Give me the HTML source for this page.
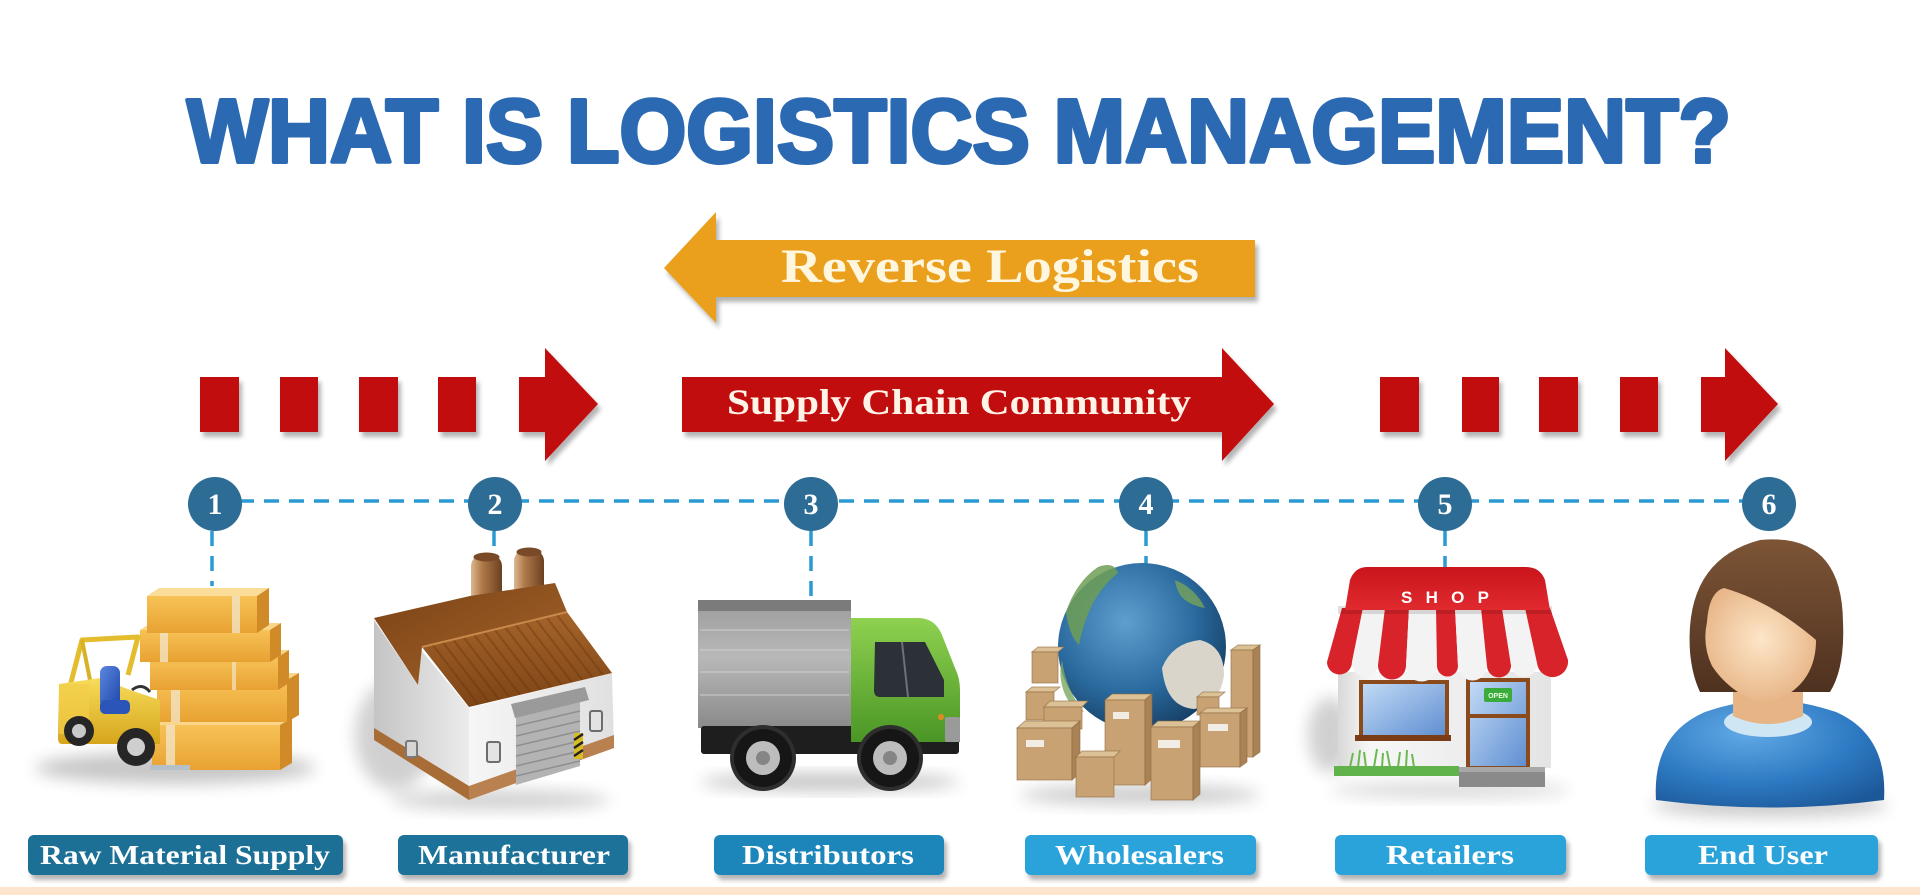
<!DOCTYPE html>
<html><head><meta charset="utf-8">
<style>
html,body{margin:0;padding:0;background:#fff;}
svg{display:block;}
</style></head>
<body>
<svg width="1920" height="895" viewBox="0 0 1920 895" xmlns="http://www.w3.org/2000/svg">
<defs>
 <filter id="ds" x="-5%" y="-20%" width="115%" height="170%">
   <feGaussianBlur in="SourceAlpha" stdDeviation="2.5"/>
   <feOffset dx="3" dy="5"/>
   <feComponentTransfer><feFuncA type="linear" slope="0.3"/></feComponentTransfer>
   <feMerge><feMergeNode/><feMergeNode in="SourceGraphic"/></feMerge>
 </filter>
 <filter id="bl" x="-50%" y="-50%" width="200%" height="200%"><feGaussianBlur stdDeviation="8"/></filter>
 <linearGradient id="gBoxF" x1="0" y1="0" x2="0" y2="1"><stop offset="0" stop-color="#f7c257"/><stop offset="1" stop-color="#e8a232"/></linearGradient>
 <linearGradient id="gYel" x1="0" y1="0" x2="0" y2="1"><stop offset="0" stop-color="#f7dc5a"/><stop offset="1" stop-color="#d6a51c"/></linearGradient>
 <linearGradient id="gSeat" x1="0" y1="0" x2="1" y2="1"><stop offset="0" stop-color="#5a86e0"/><stop offset="1" stop-color="#1e47a8"/></linearGradient>
 <linearGradient id="gChim" x1="0" y1="0" x2="1" y2="0"><stop offset="0" stop-color="#dcb892"/><stop offset="0.35" stop-color="#b07a4a"/><stop offset="1" stop-color="#6b4020"/></linearGradient>
 <linearGradient id="gRoofB" x1="0" y1="0" x2="1" y2="1"><stop offset="0" stop-color="#7a4215"/><stop offset="1" stop-color="#a5652b"/></linearGradient>
 <linearGradient id="gRoofF" x1="0" y1="0" x2="0" y2="1"><stop offset="0" stop-color="#a6642a"/><stop offset="1" stop-color="#7d4416"/></linearGradient>
 <linearGradient id="gWallL" x1="0" y1="0" x2="1" y2="0"><stop offset="0" stop-color="#c4c4c4"/><stop offset="1" stop-color="#ececec"/></linearGradient>
 <linearGradient id="gWallF" x1="0" y1="0" x2="1" y2="0"><stop offset="0" stop-color="#f6f6f6"/><stop offset="1" stop-color="#e0e0e0"/></linearGradient>
 <linearGradient id="gCargo" x1="0" y1="0" x2="0" y2="1"><stop offset="0" stop-color="#9c9c9c"/><stop offset="0.45" stop-color="#b8b8b8"/><stop offset="1" stop-color="#8a8a8a"/></linearGradient>
 <linearGradient id="gCab" x1="0" y1="0" x2="0" y2="1"><stop offset="0" stop-color="#8fd150"/><stop offset="1" stop-color="#4a9626"/></linearGradient>
 <radialGradient id="gGlobe" cx="0.4" cy="0.35" r="0.7"><stop offset="0" stop-color="#5f9fcf"/><stop offset="0.6" stop-color="#2a6a9e"/><stop offset="1" stop-color="#163d62"/></radialGradient>
 <linearGradient id="gShopTop" x1="0" y1="0" x2="0" y2="1"><stop offset="0" stop-color="#c9151b"/><stop offset="1" stop-color="#e02a2f"/></linearGradient>
 <linearGradient id="gGlass" x1="0" y1="0" x2="1" y2="1"><stop offset="0" stop-color="#c4dcf7"/><stop offset="1" stop-color="#5d8dd0"/></linearGradient>
 <linearGradient id="gShopW" x1="0" y1="0" x2="1" y2="0"><stop offset="0" stop-color="#d8d8d8"/><stop offset="0.15" stop-color="#f7f7f7"/><stop offset="1" stop-color="#e4e4e4"/></linearGradient>
 <radialGradient id="gBody" cx="0.4" cy="0.3" r="0.8"><stop offset="0" stop-color="#62aae6"/><stop offset="0.6" stop-color="#2d79c2"/><stop offset="1" stop-color="#1c5898"/></radialGradient>
 <linearGradient id="gHair" x1="0" y1="0" x2="0" y2="1"><stop offset="0" stop-color="#7d5536"/><stop offset="1" stop-color="#4e3120"/></linearGradient>
 <radialGradient id="gFace" cx="0.5" cy="0.45" r="0.6"><stop offset="0" stop-color="#fde6c8"/><stop offset="1" stop-color="#e6b283"/></radialGradient>
</defs>

<rect x="0" y="887" width="1920" height="8" fill="#fde4cd"/>

<text x="187" y="162" font-family="'Liberation Sans', sans-serif" font-weight="bold" font-size="90" fill="#2b69b2" stroke="#2b69b2" stroke-width="4" stroke-linejoin="round" textLength="1544" lengthAdjust="spacingAndGlyphs">WHAT IS LOGISTICS MANAGEMENT?</text>

<g filter="url(#ds)">
 <polygon points="664,268 716,212 716,240 1255,240 1255,297 716,297 716,323" fill="#eaa01a"/>
</g>
<text x="781" y="282" font-family="'Liberation Serif', serif" font-weight="bold" font-size="48" fill="#fff6e0" textLength="418" lengthAdjust="spacingAndGlyphs">Reverse Logistics</text>

<g filter="url(#ds)" fill="#c10a0a">
 <rect x="200" y="377" width="39" height="55"/>
 <rect x="280" y="377" width="38" height="55"/>
 <rect x="359" y="377" width="39" height="55"/>
 <rect x="438" y="377" width="38" height="55"/>
 <polygon points="519,377 545,377 545,348 598,404 545,461 545,432 519,432"/>
 <polygon points="682,377 1222,377 1222,348 1274,404 1222,461 1222,432 682,432"/>
 <rect x="1380" y="377" width="39" height="55"/>
 <rect x="1462" y="377" width="37" height="55"/>
 <rect x="1539" y="377" width="39" height="55"/>
 <rect x="1620" y="377" width="38" height="55"/>
 <polygon points="1701,377 1725,377 1725,348 1778,404 1725,461 1725,432 1701,432"/>
</g>
<text x="727" y="414" font-family="'Liberation Serif', serif" font-weight="bold" font-size="36" fill="#fff3e8" textLength="464" lengthAdjust="spacingAndGlyphs">Supply Chain Community</text>

<g stroke="#2a9ad3" stroke-width="3.5" stroke-dasharray="15 10" fill="none">
 <line x1="214" y1="501" x2="1769" y2="501"/>
 <line x1="212" y1="531" x2="212" y2="586"/>
 <line x1="494" y1="531" x2="494" y2="556"/>
 <line x1="811" y1="531" x2="811" y2="600"/>
 <line x1="1146" y1="531" x2="1146" y2="572"/>
 <line x1="1445" y1="531" x2="1445" y2="567"/>
</g>
<g fill="#2c6c95">
 <circle cx="215" cy="504" r="27"/>
 <circle cx="495" cy="504" r="27"/>
 <circle cx="811" cy="504" r="27"/>
 <circle cx="1146" cy="504" r="27"/>
 <circle cx="1445" cy="504" r="27"/>
 <circle cx="1769" cy="504" r="27"/>
</g>
<g font-family="'Liberation Serif', serif" font-weight="bold" font-size="30" fill="#fff" text-anchor="middle">
 <text x="215" y="514">1</text>
 <text x="495" y="514">2</text>
 <text x="811" y="514">3</text>
 <text x="1146" y="514">4</text>
 <text x="1445" y="514">5</text>
 <text x="1769" y="514">6</text>
</g>

<!-- ICON 1 -->
<ellipse cx="175" cy="768" rx="140" ry="16" fill="#000" opacity="0.22" filter="url(#bl)"/>
<g>
 <polygon points="152,725 164,718 292,718 280,725" fill="#f9d68a"/>
 <rect x="152" y="725" width="128" height="45" fill="url(#gBoxF)"/>
 <polygon points="280,725 292,718 292,763 280,770" fill="#d08a28"/>
 <rect x="166" y="725" width="9" height="45" fill="#f3e3c4" opacity="0.8"/>
 <polygon points="157,680 169,673 299,673 287,680" fill="#f9d68a"/>
 <rect x="157" y="680" width="130" height="42" fill="url(#gBoxF)"/>
 <polygon points="287,680 299,673 299,715 287,722" fill="#d08a28"/>
 <rect x="171" y="680" width="9" height="42" fill="#f3e3c4" opacity="0.8"/>
 <polygon points="150,657 161,650 289,650 278,657" fill="#f9d68a"/>
 <rect x="150" y="657" width="128" height="33" fill="url(#gBoxF)"/>
 <polygon points="278,657 289,650 289,683 278,690" fill="#d08a28"/>
 <rect x="232" y="657" width="4" height="33" fill="#f3e3c4" opacity="0.7"/>
 <polygon points="140,630 151,623 281,623 270,630" fill="#f9d68a"/>
 <rect x="140" y="630" width="130" height="32" fill="url(#gBoxF)"/>
 <polygon points="270,630 281,623 281,655 270,662" fill="#d08a28"/>
 <rect x="160" y="630" width="8" height="32" fill="#f3e3c4" opacity="0.8"/>
 <polygon points="147,596 159,588 269,588 257,596" fill="#fadd98"/>
 <rect x="147" y="596" width="110" height="37" fill="url(#gBoxF)"/>
 <polygon points="257,596 269,588 269,625 257,633" fill="#d08a28"/>
 <rect x="232" y="596" width="8" height="37" fill="#f3e3c4" opacity="0.8"/>
 <polyline points="69,690 82,640 138,637 128,675" fill="none" stroke="#e3bd2e" stroke-width="5" stroke-linejoin="round"/>
 <line x1="82" y1="640" x2="92" y2="690" stroke="#d9b126" stroke-width="4"/>
 <path d="M59,684 L100,678 L130,690 L160,700 L160,744 L62,744 Q58,744 58,738 Z" fill="url(#gYel)"/>
 <rect x="59" y="684" width="30" height="50" fill="#f2cd48" opacity="0.7"/>
 <rect x="100" y="666" width="20" height="42" rx="7" fill="url(#gSeat)"/>
 <rect x="100" y="700" width="30" height="14" rx="5" fill="#2b55b8"/>
 <path d="M132,690 q10,-8 18,2" fill="none" stroke="#333" stroke-width="3"/>
 <rect x="150" y="765" width="40" height="5" fill="#b5c0c8"/>
 <circle cx="79" cy="731" r="15" fill="#262626"/>
 <circle cx="79" cy="731" r="7" fill="#c9c9c9"/>
 <circle cx="136" cy="747" r="19" fill="#262626"/>
 <circle cx="136" cy="747" r="9" fill="#cfcfcf"/>
</g>

<!-- ICON 2 -->
<ellipse cx="395" cy="735" rx="40" ry="55" fill="#000" opacity="0.18" filter="url(#bl)"/>
<ellipse cx="500" cy="800" rx="110" ry="10" fill="#000" opacity="0.18" filter="url(#bl)"/>
<g>
 <path d="M471,645 V566 a15.5,13 0 0 1 31,0 V645 Z" fill="url(#gChim)"/>
 <ellipse cx="486.5" cy="557" rx="13" ry="4.5" fill="#7a4a28"/>
 <path d="M514,635 V561 a15,13 0 0 1 30,0 V635 Z" fill="url(#gChim)"/>
 <ellipse cx="529" cy="552" rx="12.5" ry="4.5" fill="#7a4a28"/>
 <polygon points="374,620 418,685 421,650 469,708 469,800 374,740" fill="url(#gWallL)"/>
 <polygon points="469,708 612,673 614,748 469,800" fill="url(#gWallF)"/>
 <polygon points="374,728 469,786 469,800 374,740" fill="#a86c36"/>
 <polygon points="469,786 614,735 614,748 469,800" fill="#b98050"/>
 <polygon points="374,618 470,596 555,583 567,612 422,647 418,685" fill="url(#gRoofB)"/>
 <polygon points="422,647 567,612 612,673 469,707" fill="url(#gRoofF)"/>
 <path d="M432.4,644.5 l46,60 M442.7,642 l46,60 M453.1,639.5 l46,60 M463.4,637 l46,60 M473.8,634.5 l46,60 M484.2,632 l46,60 M494.5,629.5 l46,60 M504.9,627 l46,60 M515.2,624.5 l46,60 M525.6,622 l46,60 M536,619.5 l46,60 M546.3,617 l46,60 M556.7,614.5 l46,60" stroke="#5e300c" stroke-opacity="0.35" stroke-width="2"/>
 <line x1="422" y1="647" x2="567" y2="612" stroke="#c9894a" stroke-width="2"/>
 <polygon points="516,706 580,691 580,766 516,785" fill="#b3b3b3"/>
 <path d="M516,716 L580,701 M516,726 L580,711 M516,736 L580,721 M516,746 L580,731 M516,756 L580,741 M516,766 L580,751 M516,776 L580,761" stroke="#8f8f8f" stroke-width="1.5"/>
 <polygon points="511,704 585,687 589,700 515,718" fill="#9a9a9a"/>
 <rect x="574" y="733" width="9" height="26" fill="#d9bb22"/>
 <path d="M574,740 l9,-6 M574,748 l9,-6 M574,756 l9,-6" stroke="#222" stroke-width="2.5"/>
 <rect x="487" y="742" width="13" height="20" rx="2" fill="#e3e3e3" stroke="#6d6d6d" stroke-width="2"/>
 <rect x="590" y="711" width="12" height="20" rx="2" fill="#e3e3e3" stroke="#6d6d6d" stroke-width="2"/>
 <rect x="406" y="741" width="11" height="16" rx="2" fill="#d5d5d5" stroke="#7a7a7a" stroke-width="2"/>
</g>

<!-- ICON 3 -->
<ellipse cx="830" cy="782" rx="130" ry="8" fill="#000" opacity="0.25" filter="url(#bl)"/>
<g>
 <rect x="698" y="600" width="153" height="128" fill="url(#gCargo)"/>
 <rect x="698" y="600" width="153" height="11" fill="#7b7b7b"/>
 <path d="M700,630 H849 M700,650 H849 M700,672 H849 M700,695 H849" stroke="#cfcfcf" stroke-opacity="0.5" stroke-width="2"/>
 <rect x="701" y="726" width="258" height="28" rx="3" fill="#1e1e1e"/>
 <path d="M851,618 H918 Q935,618 942,635 L955,668 Q960,678 960,690 V742 H851 Z" fill="url(#gCab)"/>
 <path d="M875,642 H925 L944,680 V697 H880 Q874,697 874,690 Z" fill="#2b3136"/>
 <path d="M902,642 L908,697" stroke="#6b7378" stroke-width="2"/>
 <circle cx="941" cy="717" r="3" fill="#e08a20"/>
 <rect x="945" y="717" width="15" height="25" rx="2" fill="#9a9a9a"/>
 <circle cx="763" cy="758" r="33" fill="#2e2e2e"/>
 <circle cx="763" cy="758" r="29" fill="#161616"/>
 <circle cx="763" cy="758" r="17" fill="#bdbdbd"/>
 <circle cx="763" cy="758" r="7" fill="#858585"/>
 <circle cx="890" cy="758" r="33" fill="#2e2e2e"/>
 <circle cx="890" cy="758" r="29" fill="#161616"/>
 <circle cx="890" cy="758" r="17" fill="#bdbdbd"/>
 <circle cx="890" cy="758" r="7" fill="#858585"/>
</g>

<!-- ICON 4 -->
<ellipse cx="1140" cy="795" rx="120" ry="10" fill="#000" opacity="0.2" filter="url(#bl)"/>
<g>
 <circle cx="1142" cy="647" r="84" fill="url(#gGlobe)"/>
 <path d="M1066,612 q10,-30 32,-45 q16,-6 20,6 q-15,12 -25,30 q-10,20 -14,42 q-10,-10 -13,-33 Z" fill="#6e9e55" opacity="0.85"/>
 <path d="M1062,660 q4,30 22,52 q-14,-4 -20,-20 q-6,-16 -2,-32 Z" fill="#7aa862" opacity="0.8"/>
 <path d="M1175,580 q20,8 30,28 q-12,-2 -20,-8 q-8,-6 -10,-20 Z" fill="#78a35a" opacity="0.8"/>
 <path d="M1162,668 q10,-25 38,-28 q24,6 24,35 q-4,30 -30,34 q-28,-2 -32,-41 Z" fill="#d9d5cb"/>
 <g stroke="#8f6a40" stroke-width="1" stroke-opacity="0.6">
  <polygon points="1231,650 1238,645 1260,645 1253,650" fill="#dcc197"/>
  <rect x="1231" y="650" width="22" height="107" fill="#c9a274"/>
  <polygon points="1253,650 1260,645 1260,752 1253,757" fill="#a98255"/>
  <polygon points="1032,652 1038,647 1064,647 1058,652" fill="#dcc197"/>
  <rect x="1032" y="652" width="26" height="31" fill="#c9a274"/>
  <polygon points="1026,692 1032,687 1060,687 1054,692" fill="#dcc197"/>
  <rect x="1026" y="692" width="28" height="28" fill="#c9a274"/>
  <polygon points="1197,697 1203,692 1225,692 1219,697" fill="#dcc197"/>
  <rect x="1197" y="697" width="22" height="18" fill="#c9a274"/>
  <polygon points="1200,713 1207,708 1247,708 1240,713" fill="#dcc197"/>
  <rect x="1200" y="713" width="40" height="54" fill="#c9a274"/>
  <polygon points="1240,713 1247,708 1247,762 1240,767" fill="#a98255"/>
  <polygon points="1044,707 1050,701 1088,701 1082,707" fill="#dcc197"/>
  <rect x="1044" y="707" width="38" height="22" fill="#c9a274"/>
  <polygon points="1017,728 1025,721 1080,721 1072,728" fill="#dcc197"/>
  <rect x="1017" y="728" width="55" height="52" fill="#c9a274"/>
  <polygon points="1072,728 1080,721 1080,773 1072,780" fill="#a98255"/>
  <polygon points="1105,700 1112,694 1152,694 1145,700" fill="#dcc197"/>
  <rect x="1105" y="700" width="40" height="85" fill="#c9a274"/>
  <polygon points="1145,700 1152,694 1152,779 1145,785" fill="#a98255"/>
  <polygon points="1151,727 1158,721 1200,721 1193,727" fill="#dcc197"/>
  <rect x="1151" y="727" width="42" height="73" fill="#c9a274"/>
  <polygon points="1193,727 1200,721 1200,794 1193,800" fill="#a98255"/>
  <polygon points="1076,757 1082,751 1120,751 1114,757" fill="#dcc197"/>
  <rect x="1076" y="757" width="38" height="40" fill="#c9a274"/>
 </g>
 <rect x="1158" y="740" width="22" height="8" fill="#f1ede4"/>
 <rect x="1113" y="712" width="16" height="7" fill="#f1ede4"/>
 <rect x="1208" y="724" width="20" height="7" fill="#f1ede4"/>
 <rect x="1026" y="740" width="18" height="7" fill="#f1ede4"/>
</g>

<!-- ICON 5 -->
<ellipse cx="1330" cy="735" rx="22" ry="38" fill="#000" opacity="0.18" filter="url(#bl)"/>
<ellipse cx="1450" cy="790" rx="120" ry="8" fill="#000" opacity="0.15" filter="url(#bl)"/>
<g>
 <rect x="1338" y="672" width="213" height="96" fill="url(#gShopW)"/>
 <rect x="1361" y="682" width="86" height="55" fill="url(#gGlass)" stroke="#8a4a1c" stroke-width="4"/>
 <rect x="1355" y="735" width="96" height="6" fill="#7a3c14"/>
 <rect x="1468" y="680" width="60" height="88" fill="url(#gGlass)" stroke="#8a4a1c" stroke-width="4"/>
 <line x1="1468" y1="716" x2="1528" y2="716" stroke="#8a4a1c" stroke-width="4"/>
 <rect x="1484" y="688" width="28" height="14" rx="2" fill="#3bab3b"/>
 <text x="1498" y="698" font-family="'Liberation Sans', sans-serif" font-weight="bold" font-size="7" fill="#e8ffe0" text-anchor="middle">OPEN</text>
 <path d="M1350,767 l3,-14 M1358,767 l2,-17 M1366,767 l-2,-15 M1374,767 l3,-18 M1382,767 l1,-14 M1390,767 l-3,-16 M1398,767 l2,-15 M1406,767 l1,-17 M1414,767 l-2,-13" stroke="#6cb850" stroke-width="2"/>
 <rect x="1334" y="766" width="125" height="10" fill="#5fb34a"/>
 <rect x="1459" y="767" width="86" height="20" fill="#8a8a8a"/>
 <rect x="1459" y="767" width="86" height="5" fill="#a8a8a8"/>
 <path d="M1342,608 H1363 L1352,662 a12.5,12.5 0 0 1 -25,0 Z" fill="#d8232a"/>
 <path d="M1363,608 H1385 L1378,665 a13,13 0 0 1 -26,-3 Z" fill="#f3f3f3"/>
 <path d="M1385,608 H1409 L1406,666 a14,14 0 0 1 -28,-1 Z" fill="#d8232a"/>
 <path d="M1409,608 H1436 L1437,666 a15.5,15.5 0 0 1 -31,0 Z" fill="#f3f3f3"/>
 <path d="M1436,608 H1455 L1458,666 a10.5,10.5 0 0 1 -21,0 Z" fill="#d8232a"/>
 <path d="M1455,608 H1481 L1487,666 a14.5,14.5 0 0 1 -29,0 Z" fill="#f3f3f3"/>
 <path d="M1481,608 H1502 L1511,665 a12,12 0 0 1 -24,1 Z" fill="#d8232a"/>
 <path d="M1502,608 H1525 L1537,663 a13,13 0 0 1 -26,2 Z" fill="#f3f3f3"/>
 <path d="M1525,608 H1550 L1568,660 a15.5,15.5 0 0 1 -31,3 Z" fill="#d8232a"/>
 <rect x="1338" y="606" width="214" height="8" fill="#000" opacity="0.12"/>
 <path d="M1367,567 H1526 Q1540,567 1545,580 L1550,610 H1345 L1350,580 Q1355,567 1367,567 Z" fill="url(#gShopTop)"/>
 <text x="1401" y="603" font-family="'Liberation Sans', sans-serif" font-weight="bold" font-size="17" fill="#fff" textLength="88" lengthAdjust="spacing">SHOP</text>
</g>

<!-- ICON 6 -->
<ellipse cx="1770" cy="805" rx="118" ry="12" fill="#000" opacity="0.2" filter="url(#bl)"/>
<g>
 <path d="M1656,800 Q1652,735 1705,712 Q1740,700 1770,700 Q1800,700 1836,712 Q1888,735 1884,800 Q1770,815 1656,800 Z" fill="url(#gBody)"/>
 <ellipse cx="1768" cy="722" rx="44" ry="15" fill="#cfe6f5"/>
 <path d="M1733,672 L1733,716 Q1768,732 1803,716 L1803,672 Z" fill="#e6b485"/>
 <path d="M1690,652 Q1684,560 1760,540 Q1842,532 1843,622 Q1845,668 1830,692 L1700,692 Q1692,675 1690,652 Z" fill="url(#gHair)"/>
 <path d="M1707,622 Q1709,592 1724,588 Q1772,602 1816,640 Q1816,675 1790,693 Q1770,706 1755,701 Q1728,690 1712,666 Q1702,645 1707,622 Z" fill="url(#gFace)"/>
</g>

<!-- Labels -->
<g filter="url(#ds)">
 <rect x="28" y="835" width="315" height="40" rx="6" fill="#1b6f96"/>
 <rect x="398" y="835" width="230" height="40" rx="6" fill="#1c7299"/>
 <rect x="714" y="835" width="230" height="40" rx="6" fill="#1e86bb"/>
 <rect x="1025" y="835" width="231" height="40" rx="6" fill="#29a2da"/>
 <rect x="1335" y="835" width="231" height="40" rx="6" fill="#29a2da"/>
 <rect x="1645" y="835" width="233" height="40" rx="6" fill="#29a2da"/>
</g>
<g font-family="'Liberation Serif', serif" font-weight="bold" font-size="27" fill="#fff">
 <text x="40" y="864" textLength="290" lengthAdjust="spacingAndGlyphs">Raw Material Supply</text>
 <text x="418" y="864" textLength="192" lengthAdjust="spacingAndGlyphs">Manufacturer</text>
 <text x="742" y="864" textLength="172" lengthAdjust="spacingAndGlyphs">Distributors</text>
 <text x="1055" y="864" textLength="169" lengthAdjust="spacingAndGlyphs">Wholesalers</text>
 <text x="1386" y="864" textLength="128" lengthAdjust="spacingAndGlyphs">Retailers</text>
 <text x="1698" y="864" textLength="130" lengthAdjust="spacingAndGlyphs">End User</text>
</g>
</svg>
</body></html>
